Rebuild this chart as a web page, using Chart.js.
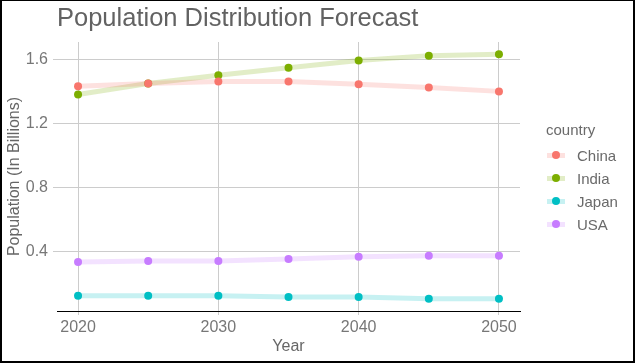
<!DOCTYPE html>
<html>
<head>
<meta charset="utf-8">
<script src="https://cdn.jsdelivr.net/npm/chart.js@4"></script>
<style>
  html, body { margin: 0; padding: 0; background: #fff; }
  #wrap { position: relative; width: 635px; height: 363px; overflow: hidden; font-family: "Liberation Sans", Arial, sans-serif; }
  #wrap canvas { position: absolute; left: 0; top: 0; }
  #frame { position: absolute; left: 0; top: 0; width: 635px; height: 363px; box-sizing: border-box; border: solid #000; border-width: 1px 2px 2px 2px; pointer-events: none; }
  #title { position: absolute; left: 57px; top: 5px; font-size: 25.5px; line-height: 25.5px; color: #626262; white-space: nowrap; }
  #legend { position: absolute; left: 546px; top: 0; width: 89px; height: 363px; color: #6a6a6a; }
  #legend .lt { position: absolute; left: 0; top: 120px; font-size: 15px; line-height: 20px; }
  #legend .li { position: absolute; left: 0; height: 23px; line-height: 23px; font-size: 15px; padding-left: 31px; white-space: nowrap; }
  #legend .bar { position: absolute; left: 1px; top: 9px; width: 18px; height: 5px; }
  #legend .dot { position: absolute; left: 6px; top: 7.5px; width: 8px; height: 8px; border-radius: 50%; }
</style>
</head>
<body>
<div id="wrap">
  <canvas id="popChart" width="635" height="363"></canvas>
  <div id="title">Population Distribution Forecast</div>
  <div id="legend"></div>
  <div id="frame"></div>
</div>
<script>
const years = [2020, 2025, 2030, 2035, 2040, 2045, 2050]
const countries = ["China", "India", "Japan", "USA"]
const china = [1.432, 1.449, 1.461, 1.461, 1.445, 1.424, 1.400]
const india = [1.380, 1.449, 1.500, 1.548, 1.592, 1.623, 1.631]
const japan = [0.125, 0.125, 0.125, 0.118, 0.118, 0.106, 0.106]
const usa = [0.336, 0.342, 0.342, 0.355, 0.369, 0.375, 0.375]
const xTicks = [2020, 2030, 2040, 2050]
const yTicks = [0.4, 0.8, 1.2, 1.6]
const colors = ["#F8766D", "#7CAE00", "#00BFC4", "#C77CFF"]

const series = [china, india, japan, usa]
const font = "'Liberation Sans', Arial, sans-serif"

function fade(hex, a) {
  const n = parseInt(hex.slice(1), 16)
  return `rgba(${(n >> 16) & 255}, ${(n >> 8) & 255}, ${n & 255}, ${a})`
}

// legend (ggplot style, line + dot keys)
const legend = document.getElementById("legend")
legend.innerHTML = '<div class="lt">country</div>' + countries.map((c, i) =>
  `<div class="li" style="top:${143.5 + 23 * i}px"><span class="bar" style="background:${fade(colors[i], 0.22)}"></span>` +
  `<span class="dot" style="background:${colors[i]}"></span>${c}</div>`
).join("")

const ctx = document.getElementById("popChart")

new Chart(ctx, {
  type: "line",
  data: {
    datasets: countries.map((c, i) => ({
      label: c,
      data: years.map((y, j) => ({ x: y, y: series[i][j] })),
      borderColor: fade(colors[i], 0.22),
      borderWidth: 5,
      pointBackgroundColor: colors[i],
      pointBorderWidth: 0,
      pointRadius: 4,
      tension: 0,
      fill: false,
    })),
  },
  options: {
    responsive: false,
    animation: false,
    layout: { padding: { top: 42, right: 115, bottom: 6, left: 5 } },
    plugins: {
      legend: { display: false },
      tooltip: { enabled: false },
    },
    scales: {
      x: {
        type: "linear",
        min: 2018.5,
        max: 2051.5,
        afterBuildTicks: (s) => { s.ticks = xTicks.map((v) => ({ value: v })) },
        afterFit: (s) => { s.height = 46 },
        grid: { color: "#cccccc", lineWidth: 1, tickLength: 4 },
        border: { display: true, color: "#000", width: 1 },
        ticks: { color: "#777777", padding: 3, font: { size: 16, family: font }, callback: (v) => String(v) },
        title: { display: true, text: "Year", color: "#666666", padding: { top: 0, bottom: 1 }, font: { size: 16, family: font } },
      },
      y: {
        min: 0.03,
        max: 1.708,
        afterBuildTicks: (s) => { s.ticks = yTicks.map((v) => ({ value: v })) },
        afterFit: (s) => { s.width = 52 },
        grid: { color: "#cccccc", lineWidth: 1, tickLength: 4 },
        border: { display: false },
        ticks: { color: "#777777", padding: 5, font: { size: 16, family: font }, callback: (v) => v.toFixed(1) },
        title: { display: true, text: "Population (In Billions)", color: "#666666", padding: 0, font: { size: 16, family: font } },
      },
    },
  },
})
</script>
</body>
</html>
